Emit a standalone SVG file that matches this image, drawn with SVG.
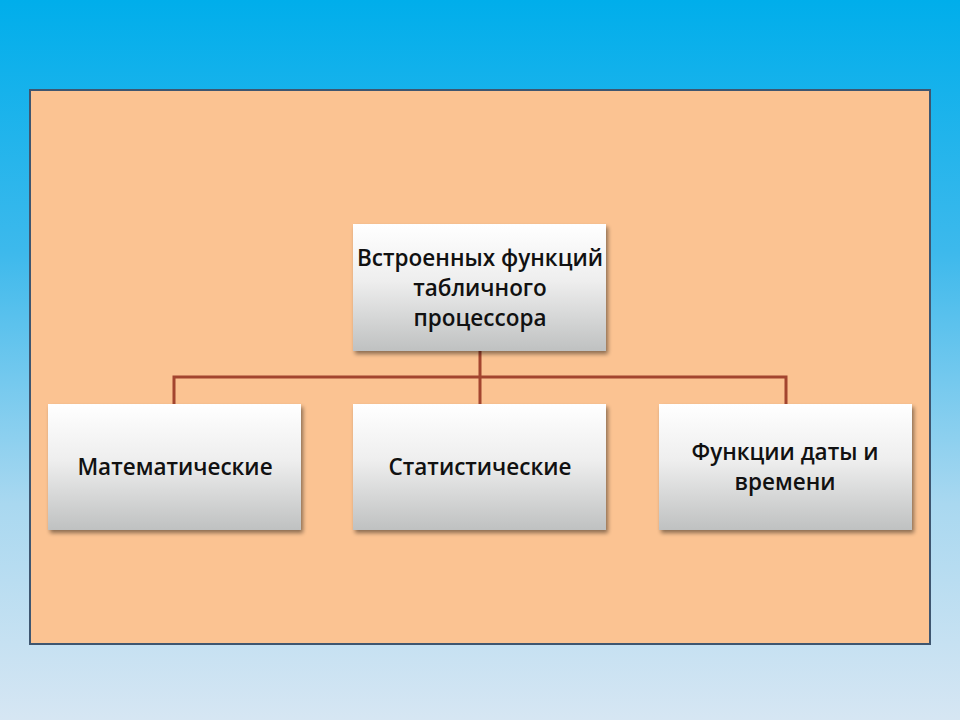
<svg xmlns="http://www.w3.org/2000/svg" width="960" height="720" viewBox="0 0 960 720">
<defs>
<linearGradient id="bg" x1="0" y1="0" x2="0" y2="1">
<stop offset="0" stop-color="#00aeeb"/>
<stop offset="0.35" stop-color="#3db9ec"/>
<stop offset="0.7" stop-color="#a9d8f0"/>
<stop offset="1" stop-color="#d6e6f3"/>
</linearGradient>
<linearGradient id="box" x1="0" y1="0" x2="0" y2="1">
<stop offset="0" stop-color="#ffffff"/>
<stop offset="0.45" stop-color="#eeeeee"/>
<stop offset="1" stop-color="#bfc1c1"/>
</linearGradient>
<filter id="sh" x="-10%" y="-10%" width="120%" height="130%">
<feGaussianBlur in="SourceAlpha" stdDeviation="2"/>
<feOffset dx="2" dy="3" result="b"/>
<feComponentTransfer><feFuncA type="linear" slope="0.45"/></feComponentTransfer>
<feMerge><feMergeNode/><feMergeNode in="SourceGraphic"/></feMerge>
</filter>
</defs>
<style>
.node rect{fill:url(#box);filter:url(#sh)}
.node text{font-family:"Open Sans","Noto Sans","Liberation Sans",sans-serif;font-weight:600;font-size:22.5px;fill:#111;text-anchor:middle}
.conn{stroke:#a3452f;stroke-width:3;fill:none}
</style>
<rect width="960" height="720" fill="url(#bg)"/>
<rect x="30" y="90" width="900" height="554" fill="#fbc392" stroke="#3e5670" stroke-width="2"/>
<g id="connectors">
<path class="conn" d="M480 351 V404 M174 404 V377 H786 V404"/>
</g>
<g id="root" class="node">
<rect x="353" y="224" width="253" height="127"/>
<text x="480" y="266" textLength="246" lengthAdjust="spacingAndGlyphs">Встроенных функций</text>
<text x="480" y="296">табличного</text>
<text x="480" y="326">процессора</text>
</g>
<g id="math" class="node">
<rect x="48" y="404" width="253" height="126"/>
<text x="175" y="475">Математические</text>
</g>
<g id="stat" class="node">
<rect x="353" y="404" width="253" height="126"/>
<text x="480" y="475">Статистические</text>
</g>
<g id="date" class="node">
<rect x="659" y="404" width="253" height="126"/>
<text x="785" y="460">Функции даты и</text>
<text x="785" y="490">времени</text>
</g>
</svg>
